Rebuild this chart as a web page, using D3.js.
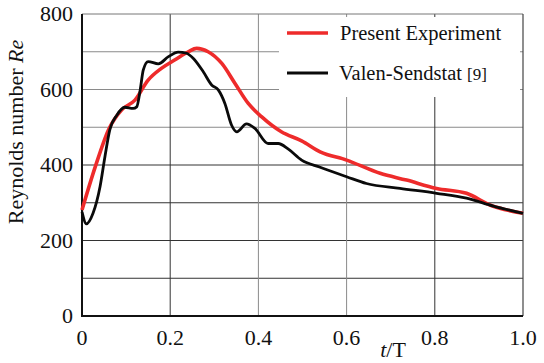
<!DOCTYPE html>
<html>
<head>
<meta charset="utf-8">
<script src="https://cdn.jsdelivr.net/npm/d3@7"></script>
<style>
  body { margin: 0; background: #fff; }
  svg { display: block; }
  text { font-family: "Liberation Serif", "Times New Roman", serif; fill: #111; }
</style>
</head>
<body>
<svg id="chart" width="544" height="363"></svg>
<script>
// t/T and Re
const presentT  = [0, 0.03, 0.06, 0.09, 0.12, 0.15, 0.18, 0.21, 0.241, 0.26, 0.286, 0.317, 0.347, 0.377, 0.407, 0.452, 0.498, 0.54, 0.6, 0.676, 0.736, 0.804, 0.872, 0.925, 1.0];
const presentRe = [281, 395, 493, 546, 572, 625, 656, 678, 700, 709, 700, 669, 616, 563, 528, 488, 464, 435, 413, 378, 360, 338, 325, 294, 272];

const valenT  = [0, 0.01, 0.025, 0.041, 0.052, 0.063, 0.079, 0.097, 0.116, 0.124, 0.132, 0.139, 0.15, 0.173, 0.196, 0.218, 0.237, 0.252, 0.275, 0.294, 0.309, 0.324, 0.339, 0.351, 0.373, 0.392, 0.422, 0.445, 0.468, 0.498, 0.54, 0.6, 0.645, 0.721, 0.804, 0.872, 0.933, 1.0];
const valenRe = [276, 244, 272, 343, 422, 493, 532, 553, 550, 554, 599, 652, 674, 668, 687, 699, 696, 683, 647, 612, 599, 563, 506, 488, 509, 497, 457, 457, 442, 413, 394, 369, 351, 338, 325, 312, 291, 272];

const xTicks = [0, 0.2, 0.4, 0.6, 0.8, 1.0];
const yTicks = [0, 200, 400, 600, 800];
const yGrid = [100, 200, 300, 400, 500, 600, 700];

const svg = d3.select("#chart");
const plotL = 82, plotR = 523, plotT = 14, plotB = 316;

const x = d3.scaleLinear().domain([0, 1]).range([plotL, plotR]);
const y = d3.scaleLinear().domain([0, 800]).range([plotB, plotT]);

// grid
const grid = svg.append("g");
grid.selectAll("line.h")
    .data(yGrid)
    .enter()
    .append("line")
    .attr("x1", plotL).attr("x2", plotR)
    .attr("y1", d => y(d)).attr("y2", d => y(d))
    .attr("stroke", d => d >= 500 ? "#8a8a8a" : "#333")
    .attr("stroke-width", 1);
grid.selectAll("line.v")
    .data([0.2, 0.4, 0.6, 0.8])
    .enter()
    .append("line")
    .attr("x1", d => x(d)).attr("x2", d => x(d))
    .attr("y1", plotT).attr("y2", plotB)
    .attr("stroke", d => (d === 0.4 || d === 0.6) ? "#8a8a8a" : "#333")
    .attr("stroke-width", 1);

// legend background hides the grid behind it
svg.append("rect")
    .attr("x", 279).attr("y", 17)
    .attr("width", 241).attr("height", 80)
    .attr("fill", "#fff");

// frame
svg.append("line").attr("x1", plotL).attr("x2", plotR).attr("y1", plotT).attr("y2", plotT)
    .attr("stroke", "#777").attr("stroke-width", 1);
svg.append("line").attr("x1", plotR).attr("x2", plotR).attr("y1", plotT).attr("y2", plotB)
    .attr("stroke", "#444").attr("stroke-width", 1.2);
svg.append("line").attr("x1", plotL).attr("x2", plotL).attr("y1", plotT).attr("y2", plotB + 1)
    .attr("stroke", "#111").attr("stroke-width", 2);
svg.append("line").attr("x1", plotL - 1).attr("x2", plotR).attr("y1", plotB).attr("y2", plotB)
    .attr("stroke", "#111").attr("stroke-width", 2);

// curves
const line = d3.line()
    .x(d => x(d[0]))
    .y(d => y(d[1]))
    .curve(d3.curveMonotoneX);

svg.append("path")
    .datum(presentT.map((t, i) => [t, presentRe[i]]))
    .attr("d", line)
    .attr("fill", "none")
    .attr("stroke", "#ee2b2b")
    .attr("stroke-width", 3.6)
    .attr("stroke-linejoin", "round");

svg.append("path")
    .datum(valenT.map((t, i) => [t, valenRe[i]]))
    .attr("d", line)
    .attr("fill", "none")
    .attr("stroke", "#0a0a0a")
    .attr("stroke-width", 2.8)
    .attr("stroke-linejoin", "round");

// tick labels
svg.append("g").selectAll("text")
    .data(yTicks)
    .enter()
    .append("text")
    .attr("x", 73)
    .attr("y", d => y(d) + 7)
    .attr("text-anchor", "end")
    .style("font-size", "22px")
    .text(d => d);

svg.append("g").selectAll("text")
    .data(xTicks)
    .enter()
    .append("text")
    .attr("x", d => x(d))
    .attr("y", 345)
    .attr("text-anchor", "middle")
    .style("font-size", "22px")
    .text(d => d === 0 ? "0" : d.toFixed(1));

// axis titles
const xt = svg.append("text")
    .attr("x", 393).attr("y", 357)
    .attr("text-anchor", "middle")
    .style("font-size", "22px");
xt.append("tspan").style("font-style", "italic").text("t");
xt.append("tspan").text("/T");

const yt = svg.append("text")
    .attr("transform", "translate(23,132) rotate(-90)")
    .attr("text-anchor", "middle")
    .style("font-size", "22px");
yt.append("tspan").text("Reynolds number ");
yt.append("tspan").style("font-style", "italic").text("Re");

// legend
const legend = svg.append("g");
legend.append("line").attr("x1", 287).attr("x2", 328).attr("y1", 33).attr("y2", 33)
    .attr("stroke", "#ee2b2b").attr("stroke-width", 3.6);
legend.append("text").attr("x", 340).attr("y", 40)
    .style("font-size", "20.5px").text("Present Experiment");
legend.append("line").attr("x1", 287).attr("x2", 328).attr("y1", 73).attr("y2", 73)
    .attr("stroke", "#0a0a0a").attr("stroke-width", 2.8);
const lt = legend.append("text").attr("x", 339).attr("y", 80).style("font-size", "20.5px");
lt.append("tspan").text("Valen-Sendstat ");
lt.append("tspan").style("font-size", "17px").text("[9]");
</script>
</body>
</html>
